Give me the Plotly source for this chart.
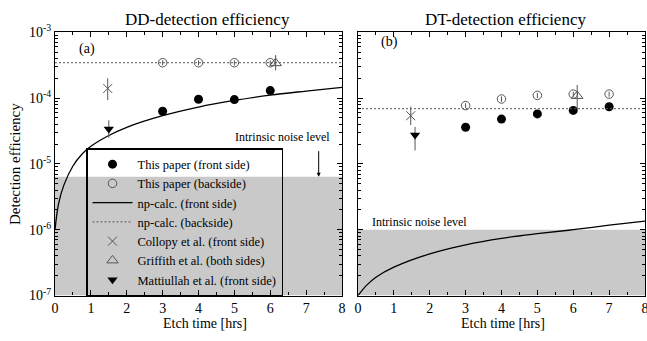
import math
import plotly.graph_objects as go

# ---------------- data ----------------
# etch times [hrs] of the measured detectors
etch_dd = [3, 4, 5, 6]
etch_dt = [3, 4, 5, 6, 7]

# this paper, DD efficiency
dd_front = [6.3e-5, 9.6e-5, 9.5e-5, 1.3e-4]
dd_back = [3.45e-4, 3.45e-4, 3.45e-4, 3.45e-4]
dd_back_err = [3.0e-5, 3.0e-5, 3.0e-5, 3.0e-5]

# this paper, DT efficiency
dt_front = [3.6e-5, 4.8e-5, 5.75e-5, 6.5e-5, 7.4e-5]
dt_back = [7.7e-5, 9.7e-5, 1.1e-4, 1.15e-4, 1.15e-4]
dt_back_err = [7e-6, 9e-6, 1e-5, 1e-5, 1e-5]

# np-calc. (front side)
calc_t_dd = [0, 0.1, 0.25, 0.5, 0.75, 1, 1.5, 2, 3, 4, 5, 6, 7, 8]
calc_dd_front = [1.0e-6, 2.5e-6, 4.8e-6, 9.3e-6, 1.4e-5, 1.85e-5, 2.7e-5,
                 3.6e-5, 5.4e-5, 7.3e-5, 9.2e-5, 1.11e-4, 1.28e-4, 1.46e-4]
calc_t_dt = [0, 0.25, 0.5, 1, 2, 3, 4, 5, 6, 7, 8]
calc_dt_front = [1.0e-7, 1.45e-7, 1.9e-7, 2.7e-7, 4.3e-7, 5.9e-7, 7.4e-7,
                 8.7e-7, 1.0e-6, 1.17e-6, 1.35e-6]

# np-calc. (backside)
calc_t_back = [0, 8]
calc_dd_back = [3.45e-4, 3.45e-4]
calc_dt_back = [6.9e-5, 6.9e-5]

# literature values: etch time, efficiency, +err, -err
collopy_t = [1.47]
collopy_dd = [1.4e-4]
collopy_dd_up = [6.0e-5]
collopy_dd_dn = [4.7e-5]
collopy_t_dt = [1.47]
collopy_dt = [5.4e-5]
collopy_dt_up = [2.0e-5]
collopy_dt_dn = [1.5e-5]

griffith_t = [6.15]
griffith_dd = [3.4e-4]
griffith_dd_up = [1.1e-4]
griffith_dd_dn = [7.5e-5]
griffith_t_dt = [6.11]
griffith_dt = [1.08e-4]
griffith_dt_up = [5.0e-5]
griffith_dt_dn = [4.0e-5]

mattiullah_t = [1.5]
mattiullah_dd = [3.4e-5]
mattiullah_dd_up = [1.2e-5]
mattiullah_dd_dn = [9.0e-6]
mattiullah_t_dt = [1.59]
mattiullah_dt = [2.75e-5]
mattiullah_dt_up = [9.0e-6]
mattiullah_dt_dn = [1.15e-5]

# intrinsic noise levels
noise_dd = 6.4e-6
noise_dt = 1.0e-6

y_tick_vals = [1e-7, 1e-6, 1e-5, 1e-4, 1e-3]
y_tick_text = ["10<sup>-7</sup>", "10<sup>-6</sup>", "10<sup>-5</sup>",
               "10<sup>-4</sup>", "10<sup>-3</sup>"]

# ---------------- styling ----------------
FONT = "Liberation Serif, Times New Roman, serif"
W, H = 647, 341
GRAY = "#555555"

fig = go.Figure()


def err(up, dn, color=GRAY):
    return dict(type="data", symmetric=False, array=up, arrayminus=dn,
                color=color, thickness=1, width=0)


panels = [
    dict(xa="x", ya="y", t=etch_dd, front=dd_front, back=dd_back, back_err=dd_back_err,
         ct=calc_t_dd, cf=calc_dd_front, cb=calc_dd_back,
         col=(collopy_t, collopy_dd, collopy_dd_up, collopy_dd_dn),
         gri=(griffith_t, griffith_dd, griffith_dd_up, griffith_dd_dn),
         mat=(mattiullah_t, mattiullah_dd, mattiullah_dd_up, mattiullah_dd_dn),
         legend=True),
    dict(xa="x2", ya="y2", t=etch_dt, front=dt_front, back=dt_back, back_err=dt_back_err,
         ct=calc_t_dt, cf=calc_dt_front, cb=calc_dt_back,
         col=(collopy_t_dt, collopy_dt, collopy_dt_up, collopy_dt_dn),
         gri=(griffith_t_dt, griffith_dt, griffith_dt_up, griffith_dt_dn),
         mat=(mattiullah_t_dt, mattiullah_dt, mattiullah_dt_up, mattiullah_dt_dn),
         legend=False),
]

for p in panels:
    xa, ya, lg = p["xa"], p["ya"], p["legend"]
    fig.add_trace(go.Scatter(
        x=p["t"], y=p["front"], mode="markers", name="This paper (front side)",
        marker=dict(symbol="circle", size=9, color="black"),
        xaxis=xa, yaxis=ya, showlegend=lg))
    fig.add_trace(go.Scatter(
        x=p["t"], y=p["back"], mode="markers", name="This paper (backside)",
        marker=dict(symbol="circle-open", size=8.5, color=GRAY, line=dict(width=1)),
        error_y=err(p["back_err"], p["back_err"]),
        xaxis=xa, yaxis=ya, showlegend=lg))
    fig.add_trace(go.Scatter(
        x=p["ct"], y=p["cf"], mode="lines", name="np-calc. (front side)",
        line=dict(color="black", width=1.3, shape="spline", smoothing=1.0),
        xaxis=xa, yaxis=ya, showlegend=lg))
    fig.add_trace(go.Scatter(
        x=calc_t_back, y=p["cb"], mode="lines", name="np-calc. (backside)",
        line=dict(color=GRAY, width=1, dash="2px,2px"),
        xaxis=xa, yaxis=ya, showlegend=lg))
    t, v, up, dn = p["col"]
    fig.add_trace(go.Scatter(
        x=t, y=v, mode="markers", name="Collopy et al. (front side)",
        marker=dict(symbol="x-thin-open", size=9, color=GRAY, line=dict(width=1, color=GRAY)),
        error_y=err(up, dn),
        xaxis=xa, yaxis=ya, showlegend=lg))
    t, v, up, dn = p["gri"]
    fig.add_trace(go.Scatter(
        x=t, y=v, mode="markers", name="Griffith et al. (both sides)",
        marker=dict(symbol="triangle-up-open", size=10, color=GRAY, line=dict(width=1)),
        error_y=err(up, dn),
        xaxis=xa, yaxis=ya, showlegend=lg))
    t, v, up, dn = p["mat"]
    fig.add_trace(go.Scatter(
        x=t, y=v, mode="markers", name="Mattiullah et al. (front side)",
        marker=dict(symbol="triangle-down", size=9, color="black"),
        error_y=err(up, dn),
        xaxis=xa, yaxis=ya, showlegend=lg))

# grey bands below the intrinsic noise level
for xa, ya, lvl in [("x", "y", noise_dd), ("x2", "y2", noise_dt)]:
    fig.add_shape(type="rect", xref=xa, yref=ya, x0=0, x1=8, y0=1e-7, y1=lvl,
                  fillcolor="#c9c9c9", line=dict(width=0), layer="below")

tick_font = dict(family=FONT, size=14, color="black")
x_common = dict(range=[0, 8], dtick=1, tick0=0, ticks="inside", ticklen=5,
                tickwidth=1, tickcolor="black",
                minor=dict(dtick=0.5, ticks="inside", ticklen=3, tickcolor="black"),
                showline=True, linecolor="black", linewidth=1.3, mirror="ticks",
                showgrid=False, zeroline=False, tickfont=tick_font,
                ticklabelstandoff=0, ticklabeloverflow="allow", automargin=False)
y_common = dict(type="log", range=[-7, -3], tickvals=y_tick_vals, ticktext=y_tick_text,
                ticks="inside", ticklen=5, tickwidth=1, tickcolor="black",
                minor=dict(dtick="D1", ticks="inside", ticklen=3, tickcolor="black"),
                showline=True, linecolor="black", linewidth=1.3, mirror="ticks",
                showgrid=False, zeroline=False, tickfont=tick_font, automargin=False,
                domain=[1 - 295.5 / H, 1 - 32.3 / H])

fig.update_layout(
    template="none",
    width=W, height=H, margin=dict(l=0, r=0, t=0, b=0, pad=0, autoexpand=False),
    paper_bgcolor="white", plot_bgcolor="white",
    font=dict(family=FONT, color="black"),
    xaxis=dict(domain=[55 / W, 342 / W], anchor="y", **x_common),
    xaxis2=dict(domain=[358 / W, 645 / W], anchor="y2", **x_common),
    yaxis=dict(anchor="x", **y_common),
    yaxis2=dict(anchor="x2", showticklabels=False, **y_common),
    legend=dict(x=86 / W, y=1 - 148 / H, xanchor="left", yanchor="top",
                bgcolor="rgba(0,0,0,0)", bordercolor="black", borderwidth=1.5,
                font=dict(family=FONT, size=12.5, color="black"),
                itemwidth=40, traceorder="normal"),
    showlegend=True,
)

ann = [
    dict(text="DD-detection efficiency", x=207 / W, y=1 - 20 / H, xref="paper", yref="paper",
         font=dict(size=17)),
    dict(text="DT-detection efficiency", x=505 / W, y=1 - 20 / H, xref="paper", yref="paper",
         font=dict(size=17)),
    dict(text="Etch time [hrs]", x=205 / W, y=1 - 323 / H, xref="paper", yref="paper",
         font=dict(size=14)),
    dict(text="Etch time [hrs]", x=503 / W, y=1 - 323 / H, xref="paper", yref="paper",
         font=dict(size=14)),
    dict(text="Detection efficiency", x=15 / W, y=1 - 164 / H, xref="paper", yref="paper",
         textangle=-90, font=dict(size=15)),
    dict(text="(a)", x=0.9, y=-3.25, xref="x", yref="y", font=dict(size=14)),
    dict(text="(b)", x=0.89, y=-3.15, xref="x2", yref="y2", font=dict(size=14)),
    dict(text="Intrinsic noise level", x=4.97, y=-4.59, xref="x", yref="y",
         xanchor="left", font=dict(size=12)),
    dict(text="Intrinsic noise level", x=0.33, y=-5.88, xref="x2", yref="y2",
         xanchor="left", font=dict(size=12)),
]
for a in ann:
    a.setdefault("showarrow", False)
    a.setdefault("xanchor", "center")
    a.setdefault("yanchor", "middle")
    a["font"] = dict(family=FONT, color="black", **a["font"])
    fig.add_annotation(**a)

# arrow pointing down to the DD noise level
fig.add_annotation(x=7.35, y=math.log10(noise_dd), xref="x", yref="y", text="",
                   showarrow=True, ax=0, ay=-27, arrowhead=2, arrowsize=0.8,
                   arrowwidth=1, arrowcolor="black")

fig.write_html("out.html")
